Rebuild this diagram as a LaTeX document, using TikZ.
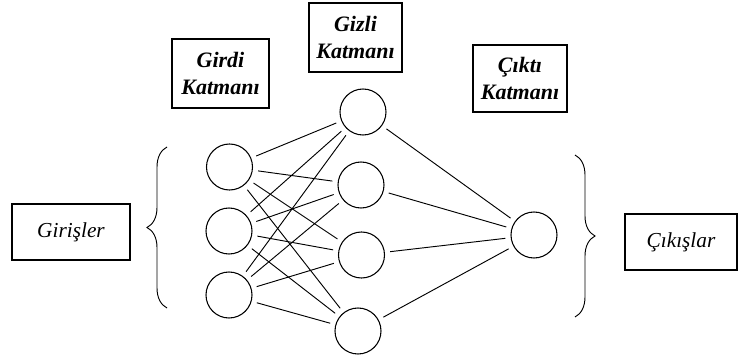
\documentclass[tikz,border=0pt]{standalone}
\usepackage{fontspec}
\setmainfont{Liberation Serif}
\usetikzlibrary{decorations.pathreplacing}

\begin{document}
\begin{tikzpicture}[x=0.75pt,y=-0.75pt,
  neuron/.style={draw,circle,line width=0.8pt,minimum size=34.5pt,inner sep=0pt},
  layerbox/.style={draw,line width=0.9pt,align=center,inner sep=0pt,font=\fontsize{16.5}{20}\selectfont\bfseries\itshape},
  iobox/.style={draw,line width=0.8pt,inner sep=0pt,font=\fontsize{16}{20}\selectfont\itshape},
  link/.style={line width=0.7pt,shorten <=4pt,shorten >=4pt},
  curly/.style={line width=0.7pt,decorate,decoration={brace,amplitude=15pt}}]
\useasboundingbox (0,0) rectangle (739,359);
% neurons
\node[neuron] (i1) at (229.5,167) {};
\node[neuron] (i2) at (229,231) {};
\node[neuron] (i3) at (229,295) {};
\node[neuron] (h1) at (363,112) {};
\node[neuron] (h2) at (361,185) {};
\node[neuron] (h3) at (361.5,255) {};
\node[neuron] (h4) at (358,331) {};
\node[neuron] (o1) at (534,235) {};
% connections
\foreach \i in {1,2,3}
  \foreach \j in {1,...,4}
    \draw[link] (i\i) -- (h\j);
\foreach \j in {1,...,4}
  \draw[link] (h\j) -- (o1);
% layer labels
\node[layerbox,minimum width=72.75pt,minimum height=51.75pt] (girdi) at (220.5,73.5) {Girdi\\Katmanı};
\node[layerbox,minimum width=69.75pt,minimum height=51.75pt] (gizli) at (355.5,37.5) {Gizli\\Katmanı};
\node[layerbox,minimum width=70.5pt,minimum height=50.25pt] (cikti) at (520,78.5) {Çıktı\\Katmanı};
% inputs and outputs
\node[iobox,minimum width=88.5pt,minimum height=42pt] (giris) at (71,232) {Girişler};
\node[iobox,minimum width=84pt,minimum height=42pt] (cikis) at (681,242) {Çıkışlar};
\draw[curly] (167,308) -- (167,147);
\draw[curly] (575,155) -- (575,317);
\end{tikzpicture}
\end{document}
